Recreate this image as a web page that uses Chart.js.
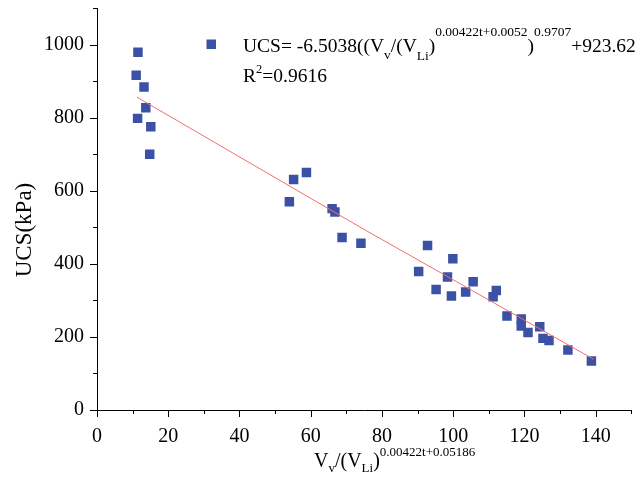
<!DOCTYPE html>
<html>
<head>
<meta charset="utf-8">
<script src="https://cdn.jsdelivr.net/npm/chart.js@4.4.0/dist/chart.umd.min.js"></script>
<style>
  html, body { margin: 0; padding: 0; background: #fff; }
  #wrap { width: 638px; height: 477px; }
</style>
</head>
<body>
<div id="wrap"><canvas id="grafico" width="638" height="477"></canvas></div>
<script>
// dados
const ucsX = [11.5, 11.0, 13.2, 13.7, 11.4, 15.1, 14.8, 55.2, 58.8, 54.0, 66.0, 66.8, 68.8, 74.1,
    92.8, 99.9, 90.3, 98.4, 105.6, 95.2, 99.5, 103.5, 112.1, 111.2, 115.1, 119.1, 119.1, 121.0,
    124.3, 125.2, 126.9, 132.2, 138.8];
const ucsY = [979, 916, 884, 827, 798, 775, 700, 631, 650, 570, 551, 542, 472, 456,
    450, 414, 379, 364, 351, 330, 312, 323, 327, 310, 257, 249, 230, 212,
    228, 196, 190, 164, 134];
const ajusteX = [11.2, 75, 139.4];
const ajusteY = [856, 494, 139];
const xTicks = [0, 20, 40, 60, 80, 100, 120, 140];
const xMinor = [10, 30, 50, 70, 90, 110, 130, 150];
const yTicks = [0, 200, 400, 600, 800, 1000];
const yMinor = [100, 300, 500, 700, 900, 1100];

const fonte = '"Liberation Serif", "Times New Roman", serif';
const corPonto = '#3B51A6';
const corLinha = '#F06E6E';

function textoRico(ctx, x, y, partes, tam, tamPeq) {
    ctx.textBaseline = 'alphabetic';
    ctx.textAlign = 'left';
    partes.forEach(p => {
        const t = p.k ? tamPeq : tam;
        ctx.font = t + 'px ' + fonte;
        ctx.fillText(p.t, x, y + (p.dy || 0));
        x += ctx.measureText(p.t).width;
    });
}

const extras = {
    id: 'extras',
    afterDraw(chart) {
        const ctx = chart.ctx;
        const sx = chart.scales.x, sy = chart.scales.y;
        const area = chart.chartArea;
        ctx.save();
        ctx.strokeStyle = '#000';
        ctx.lineWidth = 1;
        ctx.beginPath();
        xTicks.forEach(v => { const p = Math.round(sx.getPixelForValue(v)) + 0.5; ctx.moveTo(p, area.bottom); ctx.lineTo(p, area.bottom + 7); });
        xMinor.forEach(v => { const p = Math.round(sx.getPixelForValue(v)) + 0.5; ctx.moveTo(p, area.bottom); ctx.lineTo(p, area.bottom + 4); });
        yTicks.forEach(v => { const p = Math.round(sy.getPixelForValue(v)) + 0.5; ctx.moveTo(area.left, p); ctx.lineTo(area.left - 7, p); });
        yMinor.forEach(v => { const p = Math.round(sy.getPixelForValue(v)) + 0.5; ctx.moveTo(area.left, p); ctx.lineTo(area.left - 4, p); });
        ctx.stroke();

        ctx.fillStyle = '#000';
        // titulo eixo y
        ctx.save();
        ctx.translate(31, 230);
        ctx.rotate(-Math.PI / 2);
        ctx.font = '23px ' + fonte;
        ctx.textAlign = 'center';
        ctx.textBaseline = 'alphabetic';
        ctx.fillText('UCS(kPa)', 0, 0);
        ctx.restore();

        // titulo eixo x
        textoRico(ctx, 314, 467, [
            { t: 'V' }, { t: 'v', k: 1, dy: 5 }, { t: '/(V' }, { t: 'Li', k: 1, dy: 5 }, { t: ')' },
            { t: '0.00422t+0.05186', k: 1, dy: -11 }
        ], 20, 13);

        // legenda
        ctx.fillStyle = corPonto;
        ctx.fillRect(206.5, 39.5, 9.5, 9.5);
        ctx.fillStyle = '#000';
        textoRico(ctx, 243, 52, [
            { t: 'UCS= -6.5038((V' }, { t: 'v', k: 1, dy: 7 }, { t: '/(V' }, { t: 'Li', k: 1, dy: 8 }, { t: ')' },
            { t: '0.00422t+0.0052', k: 1, dy: -16 }, { t: ')' }, { t: '0.9707', k: 1, dy: -16 }, { t: '+923.62' }
        ], 19.5, 13.5);
        textoRico(ctx, 243, 82, [{ t: 'R' }, { t: '2', k: 1, dy: -9 }, { t: '=0.9616' }], 19.5, 12.5);
        ctx.restore();
    }
};

new Chart(document.getElementById('grafico'), {
    type: 'scatter',
    data: {
        datasets: [{
            label: 'ajuste',
            data: ajusteX.map((x, i) => ({ x: x, y: ajusteY[i] })),
            showLine: true,
            borderColor: corLinha,
            borderWidth: 1,
            pointRadius: 0,
            fill: false
        }, {
            label: 'UCS',
            data: ucsX.map((x, i) => ({ x: x, y: ucsY[i] })),
            pointStyle: 'rect',
            pointRadius: 6.7,
            pointBackgroundColor: corPonto,
            pointBorderWidth: 0,
            borderColor: corPonto
        }]
    },
    options: {
        responsive: false,
        animation: false,
        layout: { padding: { left: 0, right: -3, top: 8, bottom: 0 } },
        plugins: { legend: { display: false }, tooltip: { enabled: false } },
        scales: {
            x: {
                type: 'linear', min: 0, max: 150,
                afterBuildTicks: s => { s.ticks = xTicks.map(v => ({ value: v })); },
                afterFit: s => { s.height = 67; s.paddingLeft = 0; s.paddingRight = 0; },
                grid: { display: false, drawTicks: false },
                border: { display: true, color: '#000', width: 1 },
                ticks: { color: '#000', font: { family: fonte, size: 20 }, padding: 15, maxRotation: 0,
                    callback: v => String(v) }
            },
            y: {
                type: 'linear', min: 0, max: 1100,
                afterBuildTicks: s => { s.ticks = yTicks.map(v => ({ value: v })); },
                afterFit: s => { s.width = 97; s.paddingTop = 0; s.paddingBottom = 0; },
                grid: { display: false, drawTicks: false },
                border: { display: true, color: '#000', width: 1 },
                ticks: { color: '#000', font: { family: fonte, size: 20 }, padding: 13,
                    callback: v => String(v) }
            }
        }
    },
    plugins: [extras]
});
</script>
</body>
</html>
